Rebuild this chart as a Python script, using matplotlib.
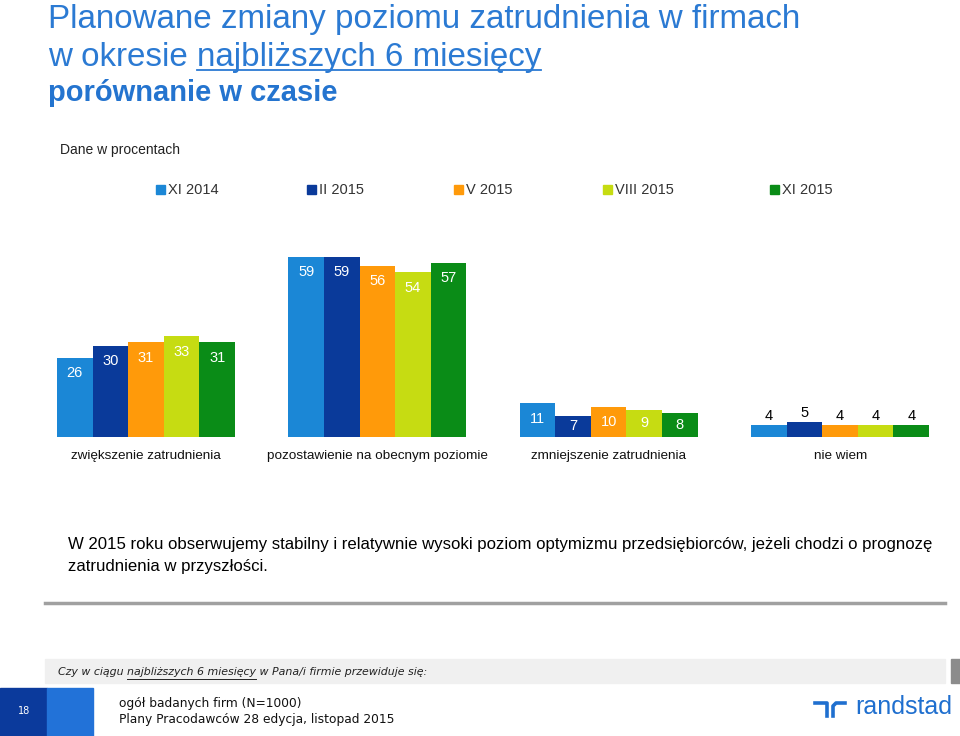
import matplotlib.pyplot as plt
import matplotlib.patches as mpatches
from matplotlib.lines import Line2D

plt.rcParams['font.family'] = ['Liberation Sans', 'DejaVu Sans']

# dane
kategorie = ['zwiększenie zatrudnienia', 'pozostawienie na obecnym poziomie',
             'zmniejszenie zatrudnienia', 'nie wiem']
okresy = ['XI 2014', 'II 2015', 'V 2015', 'VIII 2015', 'XI 2015']
xi_2014 = [26, 59, 11, 4]
ii_2015 = [30, 59, 7, 5]
v_2015 = [31, 56, 10, 4]
viii_2015 = [33, 54, 9, 4]
xi_2015 = [31, 57, 8, 4]
serie = [xi_2014, ii_2015, v_2015, viii_2015, xi_2015]
kolory = ['#1B87D6', '#0A3A9A', '#FF9A0A', '#C6DC12', '#0A8C17']

W, H = 960, 736
fig = plt.figure(figsize=(W / 100, H / 100), dpi=100)

# tlo w pikselach
bg = fig.add_axes([0, 0, 1, 1])
bg.set_xlim(0, W)
bg.set_ylim(H, 0)
bg.axis('off')

niebieski = '#2B7AD3'
bg.text(48, 28, 'Planowane zmiany poziomu zatrudnienia w firmach', fontsize=23.85,
        color=niebieski, va='baseline')
t1 = bg.text(48, 66, 'w okresie ', fontsize=23.85, color=niebieski, va='baseline')
fig.canvas.draw()
r = fig.canvas.get_renderer()
bb = t1.get_window_extent(r)
x_start = bb.x1
t2 = bg.text(x_start, 66, 'najbliższych 6 miesięcy', fontsize=23.85, color=niebieski, va='baseline')
bb2 = t2.get_window_extent(r)
bg.plot([bb2.x0, bb2.x1], [70, 70], color=niebieski, lw=1.3)
bg.text(48, 101, 'porównanie w czasie', fontsize=21, fontweight='bold',
        color='#2474CF', va='baseline')

bg.text(60, 150, 'Dane w procentach', fontsize=10, color='#222222', va='center')

# legenda
leg_x = [156, 307, 454, 603, 770]
for x, lab, c in zip(leg_x, okresy, kolory):
    bg.add_patch(mpatches.Rectangle((x, 185), 9, 9, color=c))
    bg.text(x + 12, 190, lab, fontsize=10.5, color='#333333', va='center')

# wykres
ax = fig.add_axes([57 / W, (H - 437) / H, (929 - 57) / W, 65 * 3.05 / H])
ax.set_xlim(-0.5, 24)
ax.set_ylim(0, 65)
ax.axis('off')
odstep = 6.5
for j, (vals, c) in enumerate(zip(serie, kolory)):
    xs = [i * odstep + j for i in range(len(kategorie))]
    ax.bar(xs, vals, width=1.0, color=c)
    for i, (x, v) in enumerate(zip(xs, vals)):
        if i == 3:
            ax.text(x, v + 0.5, str(v), ha='center', va='bottom', fontsize=10.5, color='black')
        else:
            ax.text(x, max(v - 5, v / 2), str(v), ha='center', va='center',
                    fontsize=10.5, color='white')
for i, k in enumerate(kategorie):
    bg.text(57 + (i * odstep + 2) * 35.6 + 17.8, 456, k, ha='center', va='center',
            fontsize=9.7, color='#111111')

# komentarz
bg.text(68, 545, 'W 2015 roku obserwujemy stabilny i relatywnie wysoki poziom optymizmu '
        'przedsiębiorców, jeżeli chodzi o prognozę', fontsize=12.08, va='center')
bg.text(68, 567, 'zatrudnienia w przyszłości.', fontsize=12.08, va='center')
bg.plot([45, 945], [603, 603], color='#A0A0A0', lw=2.5)

# stopka
bg.add_patch(mpatches.Rectangle((45, 659), 900, 24, color='#F0F0F0'))
bg.add_patch(mpatches.Rectangle((951, 659), 9, 24, color='#8C8C8C'))
stopka = dict(fontsize=7.9, style='italic', color='#222222', va='center',
              family=['DejaVu Sans'])
q1 = bg.text(58, 672, 'Czy w ciągu ', **stopka)
fig.canvas.draw()
b = q1.get_window_extent(r)
q2 = bg.text(b.x1, 672, 'najbliższych 6 miesięcy', **stopka)
b = q2.get_window_extent(r)
bg.plot([b.x0, b.x1], [679, 679], color='#222222', lw=0.7)
bg.text(b.x1, 672, ' w Pana/i firmie przewiduje się:', **stopka)

bg.add_patch(mpatches.Rectangle((0, 688), 47, 48, color='#0B3A9C'))
bg.add_patch(mpatches.Rectangle((47, 688), 46, 48, color='#2272D8'))
bg.text(24, 711, '18', fontsize=7, color='white', ha='center', va='center',
        family=['DejaVu Sans'])
bg.text(119, 703, 'ogół badanych firm (N=1000)', fontsize=8.8, va='center',
        family=['DejaVu Sans'], color='#111111')
bg.text(119, 719, 'Plany Pracodawców 28 edycja, listopad 2015', fontsize=8.8,
        va='center', family=['DejaVu Sans'], color='#111111')

# logo
logo = '#1F6FCF'
bg.add_line(Line2D([815, 827, 827], [703, 703, 716], color=logo, lw=2.6))
bg.add_line(Line2D([833, 833, 836, 845], [716, 706, 703, 703], color=logo, lw=2.6))
bg.text(855, 707, 'randstad', fontsize=18, color=logo, va='center')

fig.savefig('out.png', dpi=100)
